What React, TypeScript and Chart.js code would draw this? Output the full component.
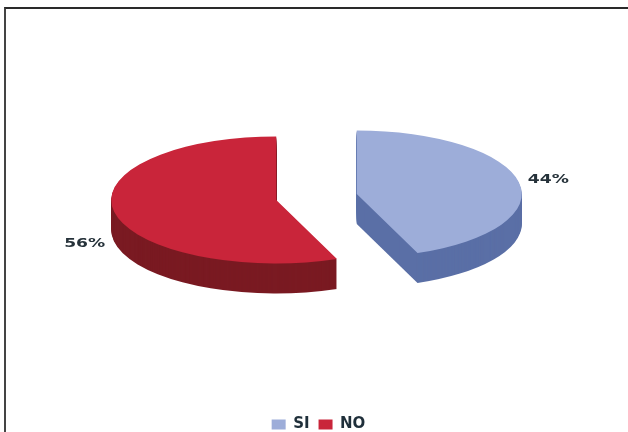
import React, { useEffect, useRef } from "react";
import { Chart, registerables } from "chart.js";

Chart.register(...registerables);

const categories = ["SI", "NO"];
const shares = [44, 56];
const topColors = ["#9DADD9", "#C9253A"];
const wallColors = ["#5A6FA6", "#7A1A22"];

const TILT = 0.385;
const DEPTH = 30;
const EXPLODE = 41;
const PIE_CENTER_X = 316.5;
const PIE_CENTER_Y = 197;
const LABEL_RADIUS = 195;

// Squashes the flat pie into an ellipse, pulls the slices apart and extrudes them.
const tiltedPie = {
  id: "tiltedPie",
  beforeDatasetsDraw(chart: any) {
    const { ctx } = chart;
    const arcs = chart.getDatasetMeta(0).data;
    arcs.forEach((arc: any, i: number) => {
      const { x, y, startAngle, endAngle, outerRadius } = arc.getProps([
        "x", "y", "startAngle", "endAngle", "outerRadius",
      ]);
      const mid = (startAngle + endAngle) / 2;
      const place = (drop: number) => {
        ctx.translate(PIE_CENTER_X, PIE_CENTER_Y + drop);
        ctx.scale(1, TILT);
        ctx.translate(Math.cos(mid) * EXPLODE - x, Math.sin(mid) * EXPLODE - y);
      };

      // Side wall: the sector swept downwards, darkest layer first.
      ctx.fillStyle = wallColors[i];
      for (let d = DEPTH; d >= 1; d--) {
        ctx.save();
        place(d);
        ctx.beginPath();
        ctx.moveTo(x, y);
        ctx.arc(x, y, outerRadius, startAngle, endAngle);
        ctx.closePath();
        ctx.fill();
        ctx.restore();
      }

      // Top face, drawn by the arc element itself.
      ctx.save();
      place(0);
      arc.draw(ctx);
      ctx.restore();
    });
    // The slices are already painted, so skip the default pass.
    return false;
  },
  afterDraw(chart: any) {
    // Percentage labels outside each slice; lower labels clear the wall.
    const { ctx } = chart;
    const arcs = chart.getDatasetMeta(0).data;
    ctx.save();
    ctx.fillStyle = "#26323A";
    ctx.font = 'bold 13px "DejaVu Sans"';
    ctx.textAlign = "center";
    ctx.textBaseline = "middle";
    arcs.forEach((arc: any, i: number) => {
      const { startAngle, endAngle } = arc.getProps(["startAngle", "endAngle"]);
      const mid = (startAngle + endAngle) / 2;
      const reach = EXPLODE + LABEL_RADIUS;
      const sin = Math.sin(mid);
      const lx = PIE_CENTER_X + Math.cos(mid) * reach;
      const ly = PIE_CENTER_Y + sin * reach * TILT + (sin > 0 ? DEPTH : 0);
      ctx.save();
      ctx.translate(lx, ly);
      ctx.scale(1.32, 1);
      ctx.fillText(`${shares[i]}%`, 0, 0);
      ctx.restore();
    });
    ctx.restore();
  },
};

export default function App() {
  const ref = useRef<HTMLCanvasElement>(null);
  useEffect(() => {
    const chart = new Chart(ref.current!, {
      type: "pie",
      data: {
        labels: categories,
        datasets: [
          {
            data: shares,
            backgroundColor: topColors,
            borderWidth: 0,
          },
        ],
      },
      options: {
        animation: false,
        responsive: false,
        radius: 165,
        layout: { padding: { left: 9, bottom: -10 } },
        plugins: {
          tooltip: { enabled: false },
          legend: {
            position: "bottom",
            labels: {
              boxWidth: 14,
              boxHeight: 10,
              padding: 9,
              color: "#1F2F3A",
              font: { family: '"DejaVu Sans"', size: 15, weight: "bold" },
            },
          },
        },
      },
      plugins: [tiltedPie],
    } as any);
    return () => chart.destroy();
  }, []);

  return (
    <div style={{ position: "fixed", left: 0, top: 0, width: 628, height: 432, background: "#fff", overflow: "hidden" }}>
      <div
        style={{
          position: "absolute",
          left: 4,
          top: 7,
          width: 640,
          height: 440,
          borderLeft: "2px solid #444",
          borderTop: "2px solid #2a2a2a",
          boxSizing: "border-box",
        }}
      />
      <canvas ref={ref} width={628} height={432} style={{ position: "absolute", left: 0, top: 0 }} />
    </div>
  );
}
